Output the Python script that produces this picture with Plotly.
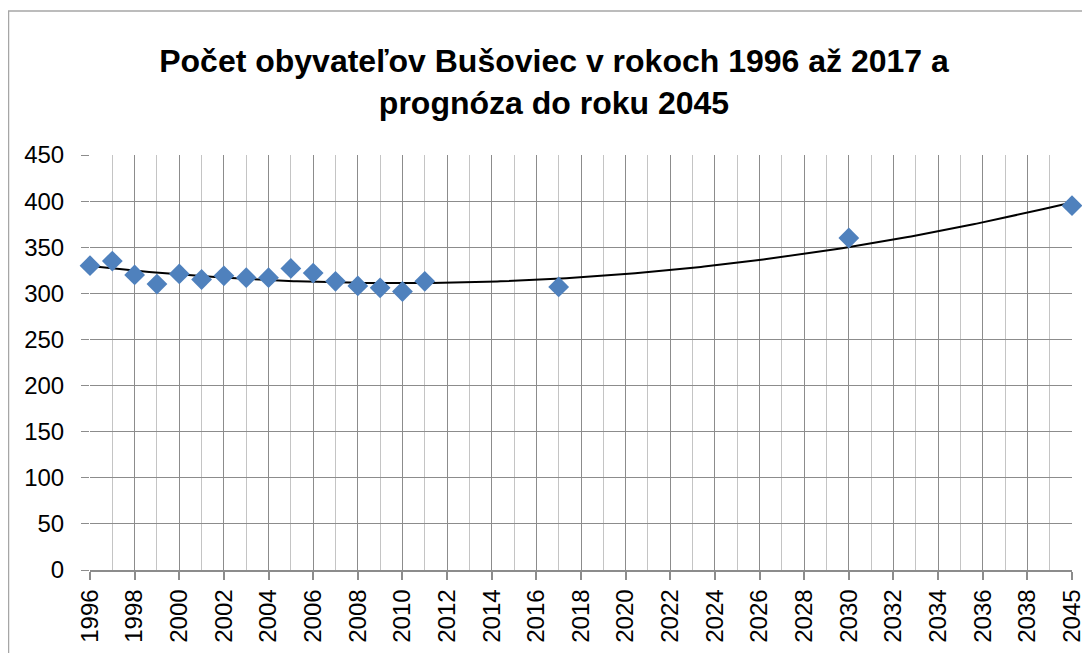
import numpy as np
import plotly.graph_objects as go

# Category axis (Excel-style): years 1996..2039 then 2045
categories = [str(y) for y in range(1996, 2040)] + ["2045"]

years = ["1996", "1997", "1998", "1999", "2000", "2001", "2002", "2003",
         "2004", "2005", "2006", "2007", "2008", "2009", "2010", "2011",
         "2017", "2030", "2045"]
population = [330, 335, 320, 310, 321, 315, 319, 317, 317, 327, 322, 313,
              308, 306, 302, 313, 307, 360, 395]

tick_labels = categories[::2]

title_text = "Počet obyvateľov Bušoviec v rokoch 1996 až 2017 a<br>prognóza do roku 2045"

x_idx = np.array([categories.index(y) for y in years], dtype=float)
yvals = np.array(population, dtype=float)

# Polynomial (order 2) trendline, as Excel computes it
coef = np.polyfit(x_idx, yvals, 2)
xt = np.linspace(0, len(categories) - 1, 300)
yt = np.polyval(coef, xt)

fig = go.Figure()
fig.add_trace(go.Scatter(
    x=xt, y=yt, mode="lines",
    line=dict(color="black", width=2),
    hoverinfo="skip", showlegend=False,
))
fig.add_trace(go.Scatter(
    x=x_idx, y=yvals, mode="markers",
    marker=dict(symbol="diamond", size=16, color="#4F81BD",
                line=dict(width=0)),
    text=years, hovertemplate="%{text}: %{y}<extra></extra>",
    showlegend=False,
    cliponaxis=False,
))

# page is offset by the 8px body margin
W, H = 1082, 645
L, R, T, B = 82, 18, 147, 83
pw, ph = W - L - R, H - T - B

def px(xp):
    return (xp - L) / pw

def py(yp):
    return (H - B - yp) / ph

fig.update_layout(
    width=W, height=H,
    margin=dict(l=L, r=R, t=T, b=B, autoexpand=False),
    paper_bgcolor="white", plot_bgcolor="white",
    font=dict(family="Liberation Sans, Arial, sans-serif", color="black"),
    title=dict(
        text=title_text,
        x=546 / W, xref="container", xanchor="center",
        y=1 - 64 / H, yref="container", yanchor="top",
        font=dict(size=32, family="Liberation Sans, Arial, sans-serif",
                  color="black", weight="bold"),
    ),
    xaxis=dict(
        range=[0, len(categories) - 1],
        tickmode="array",
        tickvals=list(range(0, len(categories), 2)),
        ticktext=tick_labels,
        tickangle=-90,
        tickfont=dict(size=24),
        showgrid=True, gridcolor="#8c8c8c", gridwidth=1,
        zeroline=False,
        showline=True, linecolor="#8c8c8c", linewidth=1.5,
        ticks="outside", ticklen=8, tickcolor="#8c8c8c", tickwidth=1.5,
        minor=dict(tickmode="linear", tick0=0, dtick=1,
                   showgrid=True, gridcolor="#c4c4c4", gridwidth=1,
                   ticks=""),
        fixedrange=True,
    ),
    yaxis=dict(
        range=[0, 450], tickmode="linear", tick0=0, dtick=50,
        tickfont=dict(size=24),
        showgrid=True, gridcolor="#8c8c8c", gridwidth=1,
        zeroline=False, showline=False,
        ticks="outside", ticklen=8, tickcolor="#8c8c8c", tickwidth=1,
        ticklabelstandoff=12,
        fixedrange=True,
    ),
    shapes=[dict(
        type="rect", xref="paper", yref="paper",
        x0=px(0.5), x1=px(1079), y0=py(660), y1=py(3),
        line=dict(color="#a6a6a6", width=1.5), fillcolor="rgba(0,0,0,0)",
        layer="below",
    )],
)

fig.write_html("out.html")
